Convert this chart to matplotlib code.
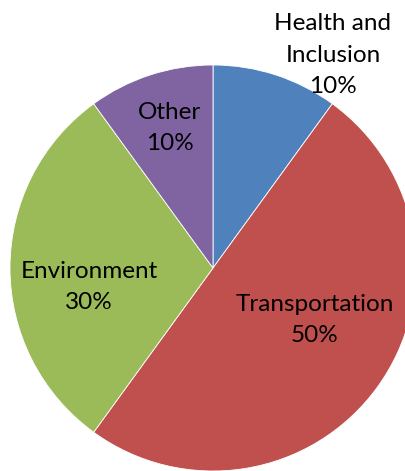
import matplotlib.pyplot as plt

categories = ["Health and\nInclusion", "Transportation", "Environment", "Other"]
shares = [10, 50, 30, 10]
colors = ["#4F81BD", "#C0504D", "#9BBB59", "#8064A2"]

# where each label block sits, in pixel coordinates of the figure
label_xy = [(333, 55), (315, 320), (89, 287), (170, 128)]

plt.rcParams["font.family"] = ["Lato", "DejaVu Sans"]

fig = plt.figure(figsize=(4.06, 4.71), dpi=100)
ax = fig.add_axes([0, 0, 1, 1])

ax.pie(shares, colors=colors, startangle=90, counterclock=False,
       center=(213, -268), radius=203,
       wedgeprops=dict(edgecolor="white", linewidth=0.6))

for name, val, (x, y) in zip(categories, shares, label_xy):
    ax.text(x, -y, "{}\n{}%".format(name, val), ha="center", va="center",
            fontsize=17.5, color="black", linespacing=1.6)

ax.set_xlim(0, 406)
ax.set_ylim(-471, 0)
ax.set_aspect("equal")
ax.axis("off")

fig.savefig("out.png", dpi=100)
